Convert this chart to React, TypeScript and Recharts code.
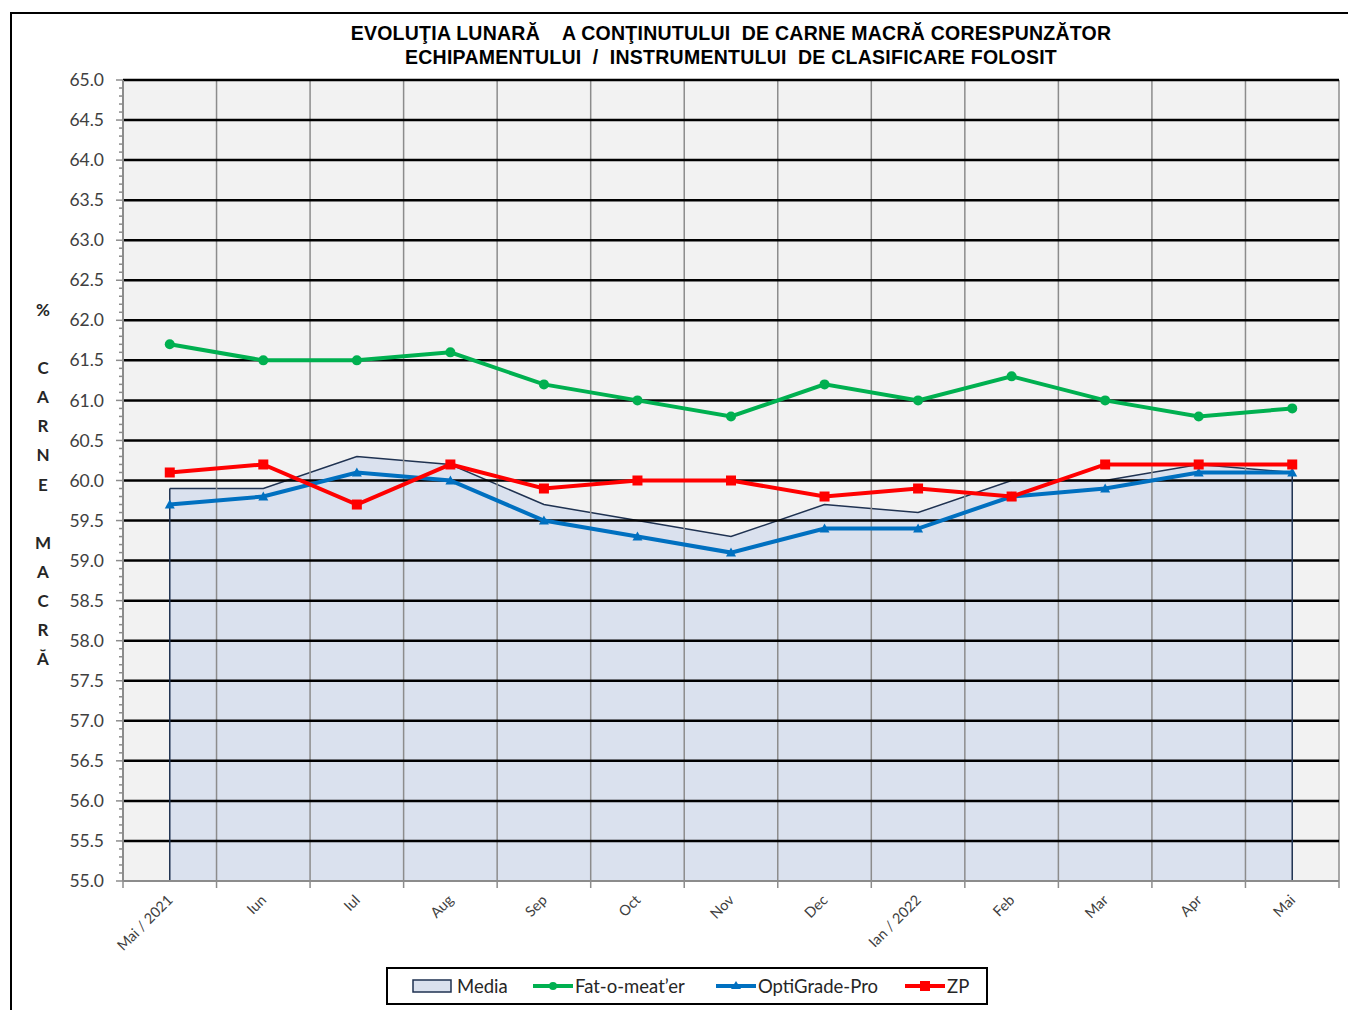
import React from "react";
import {
  ComposedChart,
  Area,
  Line,
  XAxis,
  YAxis,
  CartesianGrid,
  ReferenceLine,
} from "recharts";

const months = [
  "Mai / 2021",
  "Iun",
  "Iul",
  "Aug",
  "Sep",
  "Oct",
  "Nov",
  "Dec",
  "Ian / 2022",
  "Feb",
  "Mar",
  "Apr",
  "Mai",
];
const media = [59.9, 59.9, 60.3, 60.2, 59.7, 59.5, 59.3, 59.7, 59.6, 60.0, 60.0, 60.2, 60.1];
const fatOMeater = [61.7, 61.5, 61.5, 61.6, 61.2, 61.0, 60.8, 61.2, 61.0, 61.3, 61.0, 60.8, 60.9];
const optiGrade = [59.7, 59.8, 60.1, 60.0, 59.5, 59.3, 59.1, 59.4, 59.4, 59.8, 59.9, 60.1, 60.1];
const zp = [60.1, 60.2, 59.7, 60.2, 59.9, 60.0, 60.0, 59.8, 59.9, 59.8, 60.2, 60.2, 60.2];

const yMajorTicks = [
  55, 55.5, 56, 56.5, 57, 57.5, 58, 58.5, 59, 59.5, 60, 60.5, 61, 61.5, 62, 62.5, 63, 63.5,
  64, 64.5, 65,
];
// minor ticks every 0.1
const yMinorTicks = Array.from({ length: 101 }, (_, i) => Math.round((55 + i * 0.1) * 10) / 10);

const yLabelLetters = ["%", "", "C", "A", "R", "N", "E", "", "M", "A", "C", "R", "Ă"];

const data = months.map((month, i) => ({
  month,
  media: media[i],
  fat: fatOMeater[i],
  opti: optiGrade[i],
  zp: zp[i],
}));

const GREEN = "#00b050";
const BLUE = "#0070c0";
const RED = "#ff0000";
const NAVY = "#1f3251";
const AREA_FILL = "#dae1ee";
const AXIS_GRAY = "#8c8c8c";
const FONT = "Lato, 'Open Sans', sans-serif";

const YTick = (props: any) => {
  const { x, y, payload } = props;
  const v = payload.value as number;
  const major = Math.abs(v * 2 - Math.round(v * 2)) < 1e-6;
  return (
    <g>
      <line x1={x - (major ? 7 : 4)} x2={x} y1={y} y2={y} stroke={AXIS_GRAY} strokeWidth={1.5} />
      {major && (
        <text
          x={x - 19}
          y={y}
          dy="0.35em"
          textAnchor="end"
          fontSize={17.5}
          fill="#404040"
          fontFamily={FONT}
        >
          {v.toFixed(1)}
        </text>
      )}
    </g>
  );
};

const XTick = (props: any) => {
  const { x, y, payload, index } = props;
  const off = payload.offset ?? 0;
  const tx = x + 4;
  const ty = y + 20;
  return (
    <g>
      <line x1={x - off} x2={x - off} y1={y} y2={y + 7} stroke={AXIS_GRAY} strokeWidth={1.5} />
      {index === months.length - 1 && (
        <line x1={x + off} x2={x + off} y1={y} y2={y + 7} stroke={AXIS_GRAY} strokeWidth={1.5} />
      )}
      <text
        x={tx}
        y={ty}
        textAnchor="end"
        fontSize={14.5}
        fill="#404040"
        fontFamily={FONT}
        transform={`rotate(-45 ${tx} ${ty})`}
      >
        {payload.value}
      </text>
    </g>
  );
};

const Triangle = (props: any) => {
  const { cx, cy } = props;
  if (cx == null || cy == null) return null;
  return <path d={`M${cx},${cy - 5} L${cx + 5},${cy + 4} L${cx - 5},${cy + 4} Z`} fill={BLUE} />;
};

const Square = (props: any) => {
  const { cx, cy } = props;
  if (cx == null || cy == null) return null;
  return <rect x={cx - 5} y={cy - 5} width={10} height={10} fill={RED} />;
};

const LegendItem = ({ left, kind, color, label }: any) => (
  <div style={{ position: "absolute", left, top: 0, height: 34, display: "flex", alignItems: "center" }}>
    <svg width={40} height={14} style={{ marginRight: kind === "area" ? 5 : 2 }}>
      {kind === "area" ? (
        <rect x={1} y={1} width={38} height={12} fill={AREA_FILL} stroke={NAVY} strokeWidth={1.5} />
      ) : (
        <>
          <line x1={0} x2={40} y1={7} y2={7} stroke={color} strokeWidth={4} />
          {kind === "circle" && <circle cx={20} cy={7} r={4} fill={color} />}
          {kind === "triangle" && <path d="M20,2 L25,10 L15,10 Z" fill={color} />}
          {kind === "square" && <rect x={15} y={2} width={10} height={10} fill={color} />}
        </>
      )}
    </svg>
    <span style={{ fontFamily: FONT, fontSize: 18.5, color: "#262626" }}>{label}</span>
  </div>
);

export default function App() {
  return (
    <div style={{ position: "relative", width: 1340, height: 1002 }}>
      <div
        style={{
          position: "absolute",
          left: 2,
          top: 4,
          width: 1346,
          height: 998,
          borderLeft: "2px solid #000",
          borderTop: "2px solid #000",
          boxSizing: "border-box",
        }}
      />
      <div
        style={{
          position: "absolute",
          left: 0,
          top: 13,
          width: 1446,
          textAlign: "center",
          fontFamily: "'Liberation Sans', Arial, sans-serif",
          fontWeight: "bold",
          fontSize: 19.5,
          letterSpacing: 0.25,
          lineHeight: "24px",
          color: "#000",
          whiteSpace: "pre",
        }}
      >
        {"EVOLUŢIA LUNARĂ    A CONŢINUTULUI  DE CARNE MACRĂ CORESPUNZĂTOR\nECHIPAMENTULUI  /  INSTRUMENTULUI  DE CLASIFICARE FOLOSIT"}
      </div>
      <div
        style={{
          position: "absolute",
          left: 20,
          top: 287,
          width: 30,
          textAlign: "center",
          fontFamily: FONT,
          fontWeight: "bold",
          fontSize: 17,
          lineHeight: "29.1px",
          color: "#262626",
        }}
      >
        {yLabelLetters.map((c, i) => (
          <div key={i} style={{ height: 29.1 }}>
            {c}
          </div>
        ))}
      </div>
      <ComposedChart
        width={1340}
        height={1002}
        data={data}
        margin={{ top: 72, right: 9, left: 55, bottom: 69 }}
        style={{ position: "absolute", left: 0, top: 0 }}
      >
        <CartesianGrid fill="#f2f2f2" horizontal={false} vertical={false} />
        <XAxis
          dataKey="month"
          scale="band"
          interval={0}
          tickLine={false}
          tickSize={0}
          tickMargin={0}
          height={60}
          axisLine={{ stroke: AXIS_GRAY, strokeWidth: 2 }}
          tick={<XTick />}
        />
        <YAxis
          domain={[55, 65]}
          ticks={yMinorTicks}
          interval={0}
          allowDataOverflow
          width={60}
          tickLine={false}
          tickSize={0}
          tickMargin={0}
          axisLine={{ stroke: AXIS_GRAY, strokeWidth: 2 }}
          tick={<YTick />}
        />
        <Area
          type="linear"
          dataKey="media"
          stroke={NAVY}
          strokeWidth={1.5}
          fill={AREA_FILL}
          fillOpacity={1}
          dot={false}
          activeDot={false}
          isAnimationActive={false}
        />
        {months.slice(1).map((m) => (
          <ReferenceLine key={`v-${m}`} x={m} position="start" stroke={AXIS_GRAY} strokeWidth={1.5} />
        ))}
        <ReferenceLine x={months[months.length - 1]} position="end" stroke={AXIS_GRAY} strokeWidth={1.5} />
        {yMajorTicks.slice(1).map((v) => (
          <ReferenceLine key={`h-${v}`} y={v} stroke="#000" strokeWidth={2.5} />
        ))}
        <ReferenceLine
          segment={[
            { x: months[0], y: 55 },
            { x: months[0], y: media[0] },
          ]}
          stroke={NAVY}
          strokeWidth={1.5}
        />
        <ReferenceLine
          segment={[
            { x: months[months.length - 1], y: 55 },
            { x: months[months.length - 1], y: media[media.length - 1] },
          ]}
          stroke={NAVY}
          strokeWidth={1.5}
        />
        <Line
          type="linear"
          dataKey="fat"
          stroke={GREEN}
          strokeWidth={4}
          dot={{ r: 5, fill: GREEN, stroke: GREEN, strokeWidth: 0 }}
          activeDot={false}
          isAnimationActive={false}
        />
        <Line
          type="linear"
          dataKey="opti"
          stroke={BLUE}
          strokeWidth={4}
          dot={<Triangle />}
          activeDot={false}
          isAnimationActive={false}
        />
        <Line
          type="linear"
          dataKey="zp"
          stroke={RED}
          strokeWidth={4}
          dot={<Square />}
          activeDot={false}
          isAnimationActive={false}
        />
      </ComposedChart>
      <div
        style={{
          position: "absolute",
          left: 378,
          top: 959,
          width: 602,
          height: 38,
          border: "2px solid #000",
          boxSizing: "border-box",
          background: "#fff",
        }}
      >
        <LegendItem left={24} kind="area" label="Media" />
        <LegendItem left={145} kind="circle" color={GREEN} label="Fat-o-meat’er" />
        <LegendItem left={328} kind="triangle" color={BLUE} label="OptiGrade-Pro" />
        <LegendItem left={517} kind="square" color={RED} label="ZP" />
      </div>
    </div>
  );
}
